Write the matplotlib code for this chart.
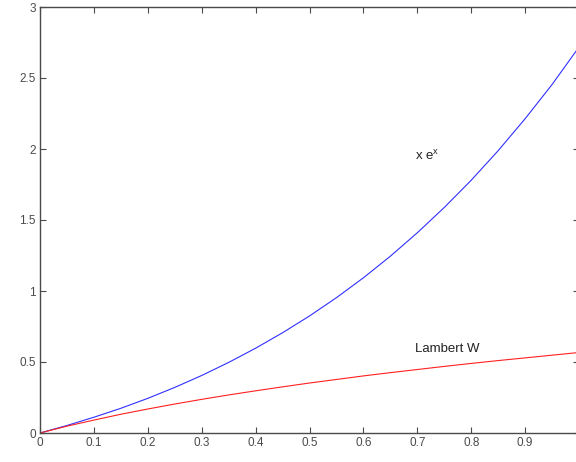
import matplotlib
matplotlib.use("Agg")
import matplotlib.pyplot as plt

# values
X = [0, 0.05, 0.1, 0.15, 0.2, 0.25, 0.3, 0.35, 0.4, 0.45, 0.5,
     0.55, 0.6, 0.65, 0.7, 0.75, 0.8, 0.85, 0.9, 0.95, 1.0]
XEX = [0, 0.053, 0.111, 0.174, 0.244, 0.321, 0.405, 0.497, 0.597, 0.706, 0.824,
       0.953, 1.093, 1.245, 1.410, 1.588, 1.780, 1.988, 2.213, 2.454, 2.718]
LAMBERT = [0, 0.048, 0.091, 0.132, 0.169, 0.204, 0.237, 0.268, 0.297, 0.325, 0.352,
           0.377, 0.402, 0.425, 0.447, 0.469, 0.490, 0.510, 0.529, 0.548, 0.567]
XTICKS = [0, 0.1, 0.2, 0.3, 0.4, 0.5, 0.6, 0.7, 0.8, 0.9]
YTICKS = [0, 0.5, 1, 1.5, 2, 2.5, 3]

plt.rcParams["font.family"] = ["Liberation Sans", "DejaVu Sans"]
GREY = "#4a4a4a"

fig = plt.figure(figsize=(5.76, 4.62), dpi=100)
ax = fig.add_axes([40 / 576, 29 / 462, 539 / 576, 426 / 462])
ax.plot(X, XEX, color="#3030ff", lw=0.8)
ax.plot(X, LAMBERT, color="#ff2020", lw=0.8)
ax.text(0.695, 1.92, r"x e$^{\mathregular{x}}$", fontsize=9.5, color="#222222")
ax.text(0.695, 0.57, "Lambert W", fontsize=9.5, color="#222222")

ax.set_xlim(0, 1)
ax.set_ylim(0, 3)
ax.set_xticks(XTICKS)
ax.set_xticklabels([f"{t:g}" for t in XTICKS])
ax.set_yticks(YTICKS)
ax.set_yticklabels([f"{t:g}" for t in YTICKS])
ax.tick_params(direction="in", length=4, width=0.8, colors=GREY, labelsize=8.5,
               top=True, right=True, pad=3)
for sp in ax.spines.values():
    sp.set_color(GREY)
    sp.set_linewidth(1.0)

fig.savefig("out.png", dpi=100, facecolor="white")
